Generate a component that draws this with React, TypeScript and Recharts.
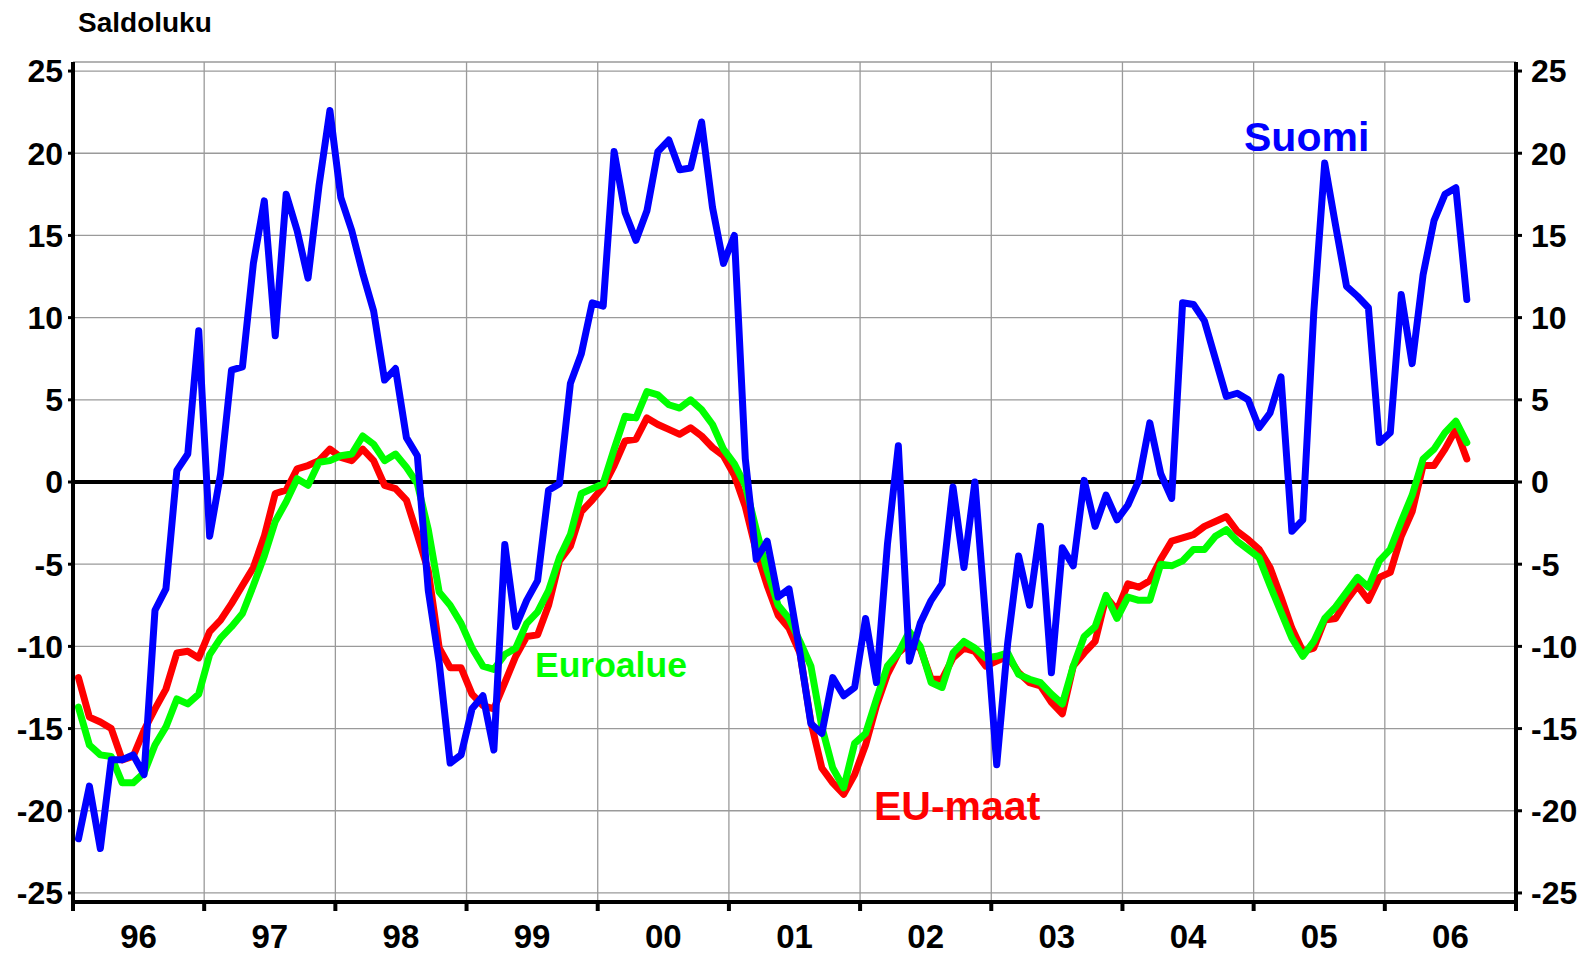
import {
  CartesianGrid,
  Line,
  LineChart,
  ReferenceLine,
  XAxis,
  YAxis,
} from "recharts";

const W = 1588;
const H = 955;
const PLOT_LEFT = 73;
const PLOT_RIGHT = 1516;
const PLOT_TOP = 62;
const PLOT_BOTTOM = 902;
const HALF_YEAR = (PLOT_RIGHT - PLOT_LEFT) / 22;
const FONT = '"Liberation Sans", Arial, Helvetica, sans-serif';

const yearLabels = ["96", "97", "98", "99", "00", "01", "02", "03", "04", "05", "06"];
const yearTicks = [0, 12, 24, 36, 48, 60, 72, 84, 96, 108, 120, 132];
const valueTicks = [-25, -20, -15, -10, -5, 0, 5, 10, 15, 20, 25];

// Kuukausittaiset saldoluvut 1/1996 - 8/2006
const suomi = [
  -21.7, -18.5, -22.3, -16.9, -16.9, -16.6, -17.8, -7.8, -6.5, 0.7, 1.7, 9.2,
  -3.3, 0.5, 6.8, 7.0, 13.3, 17.1, 8.9, 17.5, 15.3, 12.4, 18.0, 22.6,
  17.3, 15.3, 12.7, 10.4, 6.2, 6.9, 2.7, 1.6, -6.6, -11.0, -17.1, -16.6,
  -13.8, -13.0, -16.3, -3.8, -8.8, -7.2, -6.0, -0.5, -0.1, 6.0, 7.8, 10.9,
  10.7, 20.1, 16.4, 14.7, 16.5, 20.1, 20.8, 19.0, 19.1, 21.9, 16.7, 13.3,
  15.0, 1.4, -4.7, -3.6, -7.0, -6.5, -10.4, -14.7, -15.3, -11.9, -13.0, -12.5,
  -8.3, -12.2, -3.8, 2.2, -10.9, -8.6, -7.2, -6.2, -0.3, -5.2, 0.0, -8.5,
  -17.2, -9.8, -4.5, -7.5, -2.7, -11.6, -4.0, -5.1, 0.1, -2.7, -0.8, -2.3,
  -1.4, 0.1, 3.6, 0.5, -1.0, 10.9, 10.8, 9.8, 7.5, 5.2, 5.4, 5.0,
  3.3, 4.2, 6.4, -3.0, -2.3, 10.3, 19.4, 15.6, 11.9, 11.3, 10.6, 2.4,
  3.0, 11.4, 7.2, 12.6, 15.9, 17.5, 17.9, 11.1,
];

const euMaat = [
  -11.9, -14.3, -14.6, -15.0, -16.9, -16.7, -15.1, -13.8, -12.6, -10.4, -10.3, -10.7,
  -9.1, -8.4, -7.4, -6.3, -5.2, -3.3, -0.7, -0.5, 0.8, 1.0, 1.3, 2.0,
  1.5, 1.3, 2.0, 1.3, -0.2, -0.4, -1.1, -3.2, -5.4, -10.1, -11.3, -11.3,
  -12.9, -13.6, -13.8, -12.2, -10.6, -9.4, -9.3, -7.5, -4.8, -3.9, -1.8, -1.1,
  -0.3, 1.0, 2.5, 2.6, 3.9, 3.5, 3.2, 2.9, 3.3, 2.8, 2.1, 1.6,
  0.4, -1.5, -4.2, -6.3, -8.1, -8.9, -10.4, -14.6, -17.4, -18.3, -19.0, -17.8,
  -16.0, -13.6, -11.7, -10.4, -9.8, -10.1, -12.0, -12.0, -10.7, -10.1, -10.3, -11.2,
  -10.9, -10.6, -11.6, -12.2, -12.4, -13.4, -14.1, -11.2, -10.4, -9.7, -7.0, -7.8,
  -6.2, -6.4, -6.0, -4.7, -3.6, -3.4, -3.2, -2.7, -2.4, -2.1, -3.0, -3.5,
  -4.1, -5.2, -7.0, -8.9, -10.3, -10.1, -8.4, -8.3, -7.2, -6.3, -7.2, -5.8,
  -5.5, -3.3, -1.8, 1.0, 1.0, 2.0, 3.2, 1.4,
];

const euroalue = [
  -13.7, -16.0, -16.6, -16.7, -18.3, -18.3, -17.7, -16.0, -14.9, -13.2, -13.5, -12.9,
  -10.5, -9.5, -8.8, -8.0, -6.3, -4.5, -2.4, -1.2, 0.2, -0.2, 1.2, 1.3,
  1.6, 1.7, 2.8, 2.3, 1.3, 1.7, 0.9, -0.1, -2.9, -6.7, -7.5, -8.6,
  -10.1, -11.2, -11.4, -10.5, -10.1, -8.6, -7.9, -6.6, -4.6, -3.2, -0.7, -0.4,
  -0.1, 2.0, 4.0, 3.9, 5.5, 5.3, 4.7, 4.5, 5.0, 4.4, 3.5, 2.0,
  1.1, -0.2, -2.9, -5.4, -7.5, -8.3, -9.7, -11.2, -14.9, -17.4, -18.6, -15.9,
  -15.3, -13.2, -11.2, -10.4, -9.1, -10.0, -12.2, -12.5, -10.4, -9.7, -10.1, -10.7,
  -10.6, -10.4, -11.7, -12.0, -12.2, -12.9, -13.5, -11.2, -9.4, -8.8, -6.9, -8.3,
  -7.0, -7.2, -7.2, -5.0, -5.1, -4.8, -4.1, -4.1, -3.3, -2.9, -3.6, -4.1,
  -4.6, -6.3, -7.9, -9.5, -10.6, -9.7, -8.3, -7.6, -6.7, -5.8, -6.4, -4.8,
  -4.1, -2.4, -0.8, 1.4, 2.0, 3.0, 3.7, 2.4,
];

const rows = suomi.map((v, i) => ({
  month: i + 0.5,
  suomi: v,
  eu: euMaat[i],
  euro: euroalue[i],
}));

const tickFont = { fontSize: 32, fontWeight: 700, fill: "#000", fontFamily: FONT };

function YearTick(props: any) {
  const { x, y, payload } = props;
  const label = yearLabels[payload.value / 12];
  if (!label) return <g />;
  return (
    <text
      x={x + HALF_YEAR}
      y={y + 23}
      textAnchor="middle"
      fontSize={33}
      fontWeight={700}
      fontFamily={FONT}
      fill="#000"
    >
      {label}
    </text>
  );
}

export default function App() {
  return (
    <div style={{ position: "absolute", left: 0, top: 0, width: W, height: H, background: "#fff" }}>
      <LineChart
        width={W}
        height={H}
        data={rows}
        margin={{ top: PLOT_TOP, right: 0, bottom: 0, left: 0 }}
      >
        <CartesianGrid stroke="#9a9a9a" strokeWidth={1.3} />
        <XAxis
          dataKey="month"
          type="number"
          domain={[0, 132]}
          ticks={yearTicks}
          interval={0}
          height={H - PLOT_BOTTOM}
          tickSize={9}
          tickMargin={14}
          tick={<YearTick />}
          tickLine={{ stroke: "#000", strokeWidth: 4 }}
          axisLine={{ stroke: "#000", strokeWidth: 4 }}
        />
        <XAxis
          xAxisId="top"
          orientation="top"
          dataKey="month"
          type="number"
          domain={[0, 132]}
          height={0}
          tick={false}
          tickLine={false}
          axisLine={{ stroke: "#000", strokeWidth: 4 }}
        />
        <YAxis
          type="number"
          domain={[-25.55, 25.55]}
          allowDataOverflow
          ticks={valueTicks}
          interval={0}
          width={PLOT_LEFT}
          tickSize={5}
          tickMargin={5}
          tick={tickFont}
          tickLine={{ stroke: "#000", strokeWidth: 3 }}
          axisLine={{ stroke: "#000", strokeWidth: 4 }}
        />
        <YAxis
          yAxisId="right"
          orientation="right"
          type="number"
          domain={[-25.55, 25.55]}
          allowDataOverflow
          ticks={valueTicks}
          interval={0}
          width={W - PLOT_RIGHT}
          tickSize={6}
          tickMargin={9}
          tick={tickFont}
          tickLine={{ stroke: "#000", strokeWidth: 3 }}
          axisLine={{ stroke: "#000", strokeWidth: 4 }}
        />
        <ReferenceLine y={0} stroke="#000" strokeWidth={4} />
        <Line
          type="linear"
          dataKey="eu"
          stroke="#ff0000"
          strokeWidth={7}
          strokeLinejoin="round"
          strokeLinecap="round"
          dot={false}
          isAnimationActive={false}
        />
        <Line
          type="linear"
          dataKey="euro"
          stroke="#00ff00"
          strokeWidth={7}
          strokeLinejoin="round"
          strokeLinecap="round"
          dot={false}
          isAnimationActive={false}
        />
        <Line
          type="linear"
          dataKey="suomi"
          stroke="#0000ff"
          strokeWidth={7}
          strokeLinejoin="round"
          strokeLinecap="round"
          dot={false}
          isAnimationActive={false}
        />
      </LineChart>
      <svg
        width={W}
        height={H}
        style={{ position: "absolute", left: 0, top: 0, pointerEvents: "none" }}
        fontFamily={FONT}
        fontWeight={700}
      >
        <text x={78} y={32} fontSize={28} fill="#000">
          Saldoluku
        </text>
        <text x={535} y={677} fontSize={35.5} fill="#00ff00">
          Euroalue
        </text>
        <text x={874} y={820} fontSize={41} fill="#ff0000">
          EU-maat
        </text>
        <text x={1244} y={151} fontSize={41} fill="#0000ff">
          Suomi
        </text>
      </svg>
    </div>
  );
}
